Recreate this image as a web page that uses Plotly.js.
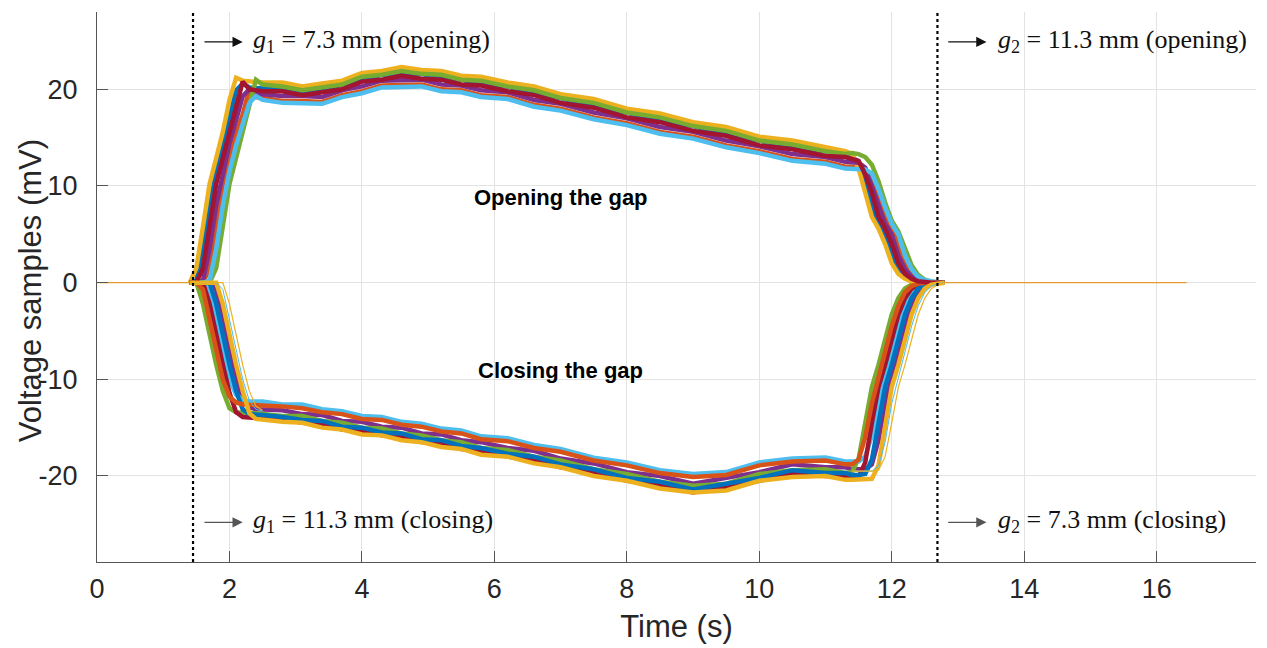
<!DOCTYPE html>
<html>
<head>
<meta charset="utf-8">
<script src="https://cdn.plot.ly/plotly-3.0.1.min.js"></script>
<style>html,body{margin:0;padding:0;background:#fff;}#chart{width:1267px;height:648px;}</style>
</head>
<body>
<div id="chart"></div>
<script>
// ---- time grids (s) ----
const tStart = [1.4, 1.5, 1.6, 1.7, 1.8, 1.9, 2.0, 2.1, 2.2, 2.3, 2.4, 2.5];
const tMid = [2.8, 3.1, 3.4, 3.7, 4.0, 4.3, 4.6, 4.9, 5.2, 5.5, 5.8, 6.2, 6.6, 7.0, 7.5, 8.0, 8.5, 9.0, 9.5, 10.0, 10.5, 11.0, 11.3];
const tEnd = [11.4, 11.5, 11.6, 11.7, 11.8, 11.9, 12.0, 12.1, 12.2, 12.3, 12.4, 12.5, 12.6, 12.7, 12.8];
const tBase = [0, 1.45, null, 12.65, 16.45];
const vBase = [0, 0, null, 0, 0];

// ---- tick labels ----
const xTicks = [0, 2, 4, 6, 8, 10, 12, 14, 16];
const yTicks = [-20, -10, 0, 10, 20];
const yTickText = ['-20', '-10', '0', '10', '20'];

// ---- opening the gap (mV) : rise | plateau | fall ----
const openA = [0, 0.2, 3.5, 8.0, 11.5, 14.4, 17.1, 19.9, 20.6, 20.2, 20.1, 20.1,
  20.1, 19.7, 19.9, 20.5, 20.9, 21.5, 21.5, 21.6, 21.1, 21.0, 20.5, 20.3, 19.5, 19.1, 18.2, 17.6, 16.7, 16.2, 15.3, 14.7, 13.9, 13.6, 13.1,
  13.0, 12.5, 10.4, 7.8, 6.1, 5.0, 2.8, 1.4, 0.6, 0.25, 0.08, 0.02, 0, 0, 0];
const openB = [0, 0, 0, 1.5, 5.8, 10.2, 12.9, 15.4, 17.4, 20.0, 19.2, 19.1,
  18.8, 18.8, 18.7, 19.4, 19.8, 20.4, 20.4, 20.5, 20.0, 19.9, 19.4, 19.2, 18.4, 18.0, 17.1, 16.5, 15.6, 15.1, 14.2, 13.6, 12.8, 12.5, 12.0,
  12.0, 12.0, 11.8, 10.6, 9.0, 6.8, 5.6, 4.0, 2.0, 0.9, 0.4, 0.15, 0.04, 0, 0];
const openC = [0, 1.5, 5.8, 10.2, 12.9, 15.6, 18.9, 21.2, 20.9, 20.8, 20.7, 20.7,
  20.7, 20.3, 20.6, 20.9, 21.7, 21.9, 22.3, 22.0, 21.9, 21.4, 21.3, 20.7, 20.3, 19.5, 19.0, 18.0, 17.5, 16.6, 16.1, 15.1, 14.7, 14.0, 13.6,
  13.3, 11.8, 9.3, 6.8, 5.6, 4.0, 2.0, 0.9, 0.4, 0.15, 0.04, 0, 0, 0, 0];
const openD = [0, 0, 0.2, 3.5, 8.0, 11.5, 14.4, 16.8, 19.3, 20.0, 19.6, 19.5,
  19.3, 19.3, 19.2, 19.9, 20.3, 20.9, 20.9, 21.0, 20.5, 20.4, 19.9, 19.7, 18.9, 18.5, 17.6, 17.0, 16.1, 15.6, 14.7, 14.1, 13.3, 13.0, 12.5,
  12.5, 12.4, 11.9, 10.0, 7.8, 6.1, 5.0, 2.8, 1.4, 0.6, 0.25, 0.08, 0.02, 0, 0];
const openE = [0, 0, 0, 0, 1.5, 5.8, 10.2, 12.9, 15.6, 18.5, 21.0, 20.5,
  20.3, 19.9, 20.2, 20.5, 21.3, 21.5, 21.9, 21.6, 21.5, 21.0, 20.9, 20.3, 19.9, 19.1, 18.6, 17.6, 17.1, 16.2, 15.7, 14.7, 14.3, 13.6, 13.3,
  13.4, 13.3, 13.0, 12.2, 10.5, 8.3, 6.4, 5.3, 3.6, 1.8, 0.8, 0.3, 0.1, 0.03, 0];
const openF = [0, 0, 0, 0.2, 3.5, 8.0, 11.5, 14.2, 16.4, 18.6, 19.3, 18.9,
  18.6, 18.6, 18.5, 19.2, 19.6, 20.2, 20.2, 20.3, 19.8, 19.7, 19.2, 19.0, 18.2, 17.8, 16.9, 16.3, 15.4, 14.9, 14.0, 13.4, 12.6, 12.3, 11.8,
  11.8, 11.8, 11.7, 11.3, 9.7, 7.8, 6.1, 5.0, 2.8, 1.4, 0.6, 0.25, 0.08, 0.02, 0];
const openG = [0, 0, 1.5, 5.8, 10.2, 12.9, 15.6, 18.2, 20.8, 20.0, 19.9, 19.8,
  19.8, 19.4, 19.7, 20.0, 20.8, 21.0, 21.4, 21.1, 21.0, 20.5, 20.4, 19.8, 19.4, 18.6, 18.1, 17.1, 16.6, 15.7, 15.2, 14.2, 13.8, 13.1, 13.0,
  12.8, 12.6, 11.2, 9.3, 6.8, 5.6, 4.0, 2.0, 0.9, 0.4, 0.15, 0.04, 0, 0, 0];

// ---- closing the gap (mV) : fall | plateau | rise ----
const closeA = [0, 0, 0, 0, -2.2, -5.5, -8.5, -11.2, -13.1, -13.6, -13.7, -13.7,
  -13.9, -14.2, -14.3, -14.9, -15.0, -15.5, -15.6, -16.2, -16.3, -16.9, -17.1, -17.7, -18.0, -18.8, -19.3, -20.2, -20.6, -21.4, -20.8, -20.2, -19.4, -19.7, -19.7,
  -19.9, -19.9, -19.8, -18.3, -14.5, -10.8, -8.5, -5.8, -3.3, -1.6, -0.6, -0.2, -0.05, 0, 0];
const closeB = [0, 0, -0.7, -3.8, -7.0, -10.0, -11.8, -12.4, -12.6, -12.6, -12.6, -12.7,
  -12.8, -13.0, -13.4, -13.6, -14.1, -14.2, -14.7, -14.9, -15.4, -15.6, -16.2, -16.4, -17.1, -17.5, -18.4, -18.9, -19.7, -20.1, -19.9, -18.9, -18.5, -18.4, -18.8,
  -18.8, -18.3, -16.0, -12.5, -9.8, -7.2, -4.5, -2.4, -1.0, -0.35, -0.1, 0, 0, 0, 0];
const closeC = [0, 0, 0, 0, 0, -2.2, -5.5, -8.5, -11.2, -13.5, -14.1, -14.2,
  -14.4, -14.5, -15.0, -15.2, -15.7, -15.8, -16.3, -16.5, -17.0, -17.2, -17.8, -18.0, -18.7, -19.1, -20.0, -20.5, -21.3, -21.7, -21.5, -20.5, -20.1, -20.0, -20.4,
  -20.4, -20.4, -20.4, -20.3, -18.9, -14.5, -10.8, -8.5, -5.8, -3.3, -1.6, -0.6, -0.2, -0.05, 0];
const closeD = [0, 0, 0, 0, -0.7, -3.8, -7.0, -10.0, -12.0, -12.9, -13.1, -13.1,
  -13.2, -13.6, -13.7, -14.3, -14.4, -14.9, -15.0, -15.6, -15.7, -16.3, -16.5, -17.1, -17.4, -18.2, -18.7, -19.6, -20.0, -20.8, -20.2, -19.6, -18.8, -19.1, -19.1,
  -19.3, -19.3, -19.3, -18.8, -16.3, -12.5, -9.8, -7.2, -4.5, -2.4, -1.0, -0.35, -0.1, 0, 0];
const closeE = [0, 0, -2.2, -5.5, -8.5, -11.2, -13.0, -13.4, -13.5, -13.5, -13.5, -13.6,
  -13.8, -13.8, -14.3, -14.5, -15.0, -15.1, -15.6, -15.8, -16.3, -16.5, -17.1, -17.3, -18.0, -18.4, -19.3, -19.8, -20.6, -21.0, -20.8, -19.8, -19.4, -19.3, -19.7,
  -19.6, -18.2, -14.5, -10.8, -8.5, -5.8, -3.3, -1.6, -0.6, -0.2, -0.05, 0, 0, 0, 0];
const closeF = [0, 0, 0, -0.7, -3.8, -7.0, -10.0, -11.6, -12.1, -12.3, -12.3, -12.3,
  -12.6, -12.6, -13.1, -13.3, -13.8, -13.9, -14.4, -14.6, -15.1, -15.3, -15.9, -16.1, -16.8, -17.2, -18.1, -18.6, -19.4, -19.8, -19.6, -18.6, -18.2, -18.1, -18.5,
  -18.5, -18.5, -18.0, -15.8, -12.5, -9.8, -7.2, -4.5, -2.4, -1.0, -0.35, -0.1, 0, 0, 0];
const closeG = [0, 0, 0, -2.2, -5.5, -8.5, -11.4, -13.4, -13.9, -14.0, -14.0, -14.0,
  -14.1, -14.5, -14.6, -15.2, -15.3, -15.8, -15.9, -16.5, -16.6, -17.2, -17.4, -18.0, -18.3, -19.1, -19.6, -20.5, -20.9, -21.7, -21.1, -20.5, -19.7, -20.0, -20.0,
  -20.2, -20.1, -18.6, -14.5, -10.8, -8.5, -5.8, -3.3, -1.6, -0.6, -0.2, -0.05, 0, 0, 0];

// ---- late closing traces (transitions only) ----
const lateYFall = [0, 0, 0, 0, 0, 0, -2.2, -5.5, -8.5, -11.2, -12.8, -13.2];
const lateYRise = [-19.5, -19.5, -19.5, -19.5, -19.4, -18.0, -14.5, -10.8, -8.5, -5.8, -3.3, -1.6, -0.6, -0.2, 0];
const lateBFall = [0, 0, 0, 0, 0, -0.7, -3.8, -7.0, -10.0, -12.2, -13.1, -13.3];
const lateBRise = [-19.5, -19.5, -19.5, -19.5, -19.0, -16.5, -12.5, -9.8, -7.2, -4.5, -2.4, -1.0, -0.35, -0.1, 0];

const colors = ['#0072BD', '#D95319', '#EDB120', '#7E2F8E', '#77AC30', '#4DBEEE', '#A2142F'];
const openSeries = [openA, openB, openC, openD, openE, openF, openG];
const closeSeries = [closeA, closeB, closeC, closeD, closeE, closeF, closeG];

const tFull = tStart.concat(tMid, tEnd);
const traces = [];
traces.push({x: tBase, y: vBase, mode: 'lines', line: {color: '#E39A2E', width: 1.3}, hoverinfo: 'skip'});
for (let i = 0; i < 7; i++) {
  traces.push({x: tFull, y: openSeries[i], mode: 'lines', line: {color: colors[i], width: 4.5}, hoverinfo: 'skip'});
  traces.push({x: tFull, y: closeSeries[(i + 3) % 7], mode: 'lines', line: {color: colors[(i + 3) % 7], width: 4.5}, hoverinfo: 'skip'});
}
const tLate = tStart.concat([null], tEnd);
traces.push({x: tLate, y: lateBFall.concat([null], lateBRise), mode: 'lines', line: {color: '#4DBEEE', width: 1}, connectgaps: false, hoverinfo: 'skip'});
traces.push({x: tLate, y: lateYFall.concat([null], lateYRise), mode: 'lines', line: {color: '#EDB120', width: 1.2}, connectgaps: false, hoverinfo: 'skip'});

const serif = '"Liberation Serif", "DejaVu Serif", serif';
const sans = '"Liberation Sans", Arial, Helvetica, sans-serif';
function arrow(x0, x1, y, col) {
  return {x: x1, y: y, ax: x0, ay: y, xref: 'x', yref: 'y', axref: 'x', ayref: 'y',
    text: '', showarrow: true, arrowhead: 2, arrowsize: 1.7, arrowwidth: 1.2, arrowcolor: col};
}
function label(x, y, txt) {
  return {x: x, y: y, xref: 'x', yref: 'y', text: txt, showarrow: false, xanchor: 'left', yanchor: 'middle',
    font: {family: serif, size: 26, color: '#111'}};
}
const annotations = [
  arrow(1.6, 2.2, 24.9, '#111'), label(2.33, 25.0, '<i>g</i><sub>1</sub> = 7.3 mm (opening)'),
  arrow(12.83, 13.43, 24.9, '#111'), label(13.58, 25.0, '<i>g</i><sub>2</sub> = 11.3 mm (opening)'),
  arrow(1.6, 2.2, -24.8, '#555'), label(2.33, -24.7, '<i>g</i><sub>1</sub> = 11.3 mm (closing)'),
  arrow(12.83, 13.43, -24.8, '#555'), label(13.58, -24.7, '<i>g</i><sub>2</sub> = 7.3 mm (closing)'),
  {x: 7.0, y: 8.8, xref: 'x', yref: 'y', text: '<b>Opening the gap</b>', showarrow: false, font: {family: sans, size: 22, color: '#000'}},
  {x: 7.0, y: -9.1, xref: 'x', yref: 'y', text: '<b>Closing the gap</b>', showarrow: false, font: {family: sans, size: 22, color: '#000'}},
  // y-axis title
  {x: -0.0575, y: 0.493, xref: 'paper', yref: 'paper', text: 'Voltage samples (mV)', textangle: -90, showarrow: false,
    xanchor: 'center', yanchor: 'middle', font: {family: sans, size: 31, color: '#262626'}}
];

const shapes = [1.45, 12.69].map(v => ({type: 'line', xref: 'x', yref: 'paper', x0: v, x1: v, y0: 0, y1: 1,
  line: {color: '#000', width: 2.2, dash: 'dot'}}));

const axisCommon = {showline: true, linecolor: '#555', linewidth: 1, ticks: 'inside', ticklen: 11, tickcolor: '#555',
  showgrid: true, gridcolor: '#e3e3e3', zeroline: false, mirror: false,
  tickfont: {family: sans, size: 27, color: '#262626'}};

const layout = {
  width: 1267, height: 648,
  margin: {l: 97, r: 11, t: 12, b: 86},
  paper_bgcolor: '#fff', plot_bgcolor: '#fff',
  showlegend: false,
  xaxis: Object.assign({}, axisCommon, {range: [0, 17.5], tickvals: xTicks, ticklabelstandoff: 3,
    title: {text: 'Time (s)', font: {family: sans, size: 31, color: '#262626'}, standoff: 11}}),
  yaxis: Object.assign({}, axisCommon, {range: [-28.9, 28.0], tickvals: yTicks, ticktext: yTickText, ticklabelstandoff: 13}),
  annotations: annotations,
  shapes: shapes
};

Plotly.newPlot('chart', traces, layout, {displayModeBar: false, staticPlot: true});
</script>
</body>
</html>
